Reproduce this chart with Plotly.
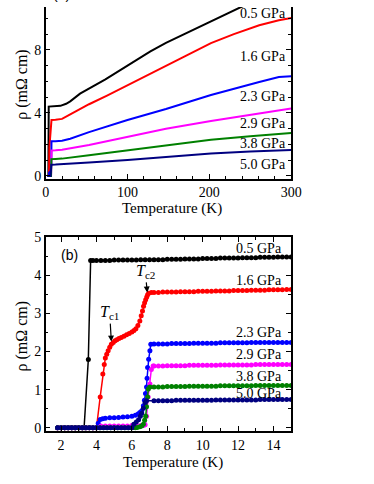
import plotly.graph_objects as go

# ---------------- data: panel (a) ----------------
top_T_05 = [2, 3.3, 3.7, 10, 18, 25, 30, 42, 60, 73, 100, 128, 147, 170, 203, 238, 270, 300]
top_rho_05 = [0, 0, 4.40, 4.42, 4.45, 4.58, 4.73, 5.22, 5.75, 6.13, 7.0, 7.9, 8.45, 9.02, 9.88, 10.7, 11.4, 12.1]
top_T_16 = [2, 4.0, 4.5, 5.5, 6.6, 7.1, 12, 20, 30, 40, 53, 75, 100, 125, 147, 175, 202, 230, 261, 285, 300]
top_rho_16 = [0, 0, 1.8, 2.4, 3.1, 3.55, 3.57, 3.62, 3.9, 4.2, 4.55, 5.1, 5.75, 6.4, 6.95, 7.7, 8.43, 9.0, 9.56, 9.88, 10.02]
top_T_23 = [2, 4.0, 4.2, 6.0, 6.8, 7.1, 12, 20, 30, 53, 100, 147, 202, 230, 261, 285, 300]
top_rho_23 = [0, 0, 0.22, 0.3, 0.7, 2.2, 2.21, 2.24, 2.36, 2.78, 3.55, 4.25, 5.14, 5.55, 5.96, 6.28, 6.33]
top_T_29 = [2, 6.6, 6.9, 7.2, 12, 20, 53, 100, 147, 202, 250, 300]
top_rho_29 = [0, 0, 0.8, 1.62, 1.63, 1.66, 1.97, 2.47, 3.0, 3.49, 3.88, 4.28]
top_T_38 = [2, 6.5, 6.85, 7.0, 12, 20, 53, 100, 147, 202, 250, 300]
top_rho_38 = [0, 0, 0.6, 1.07, 1.08, 1.1, 1.32, 1.63, 1.95, 2.3, 2.52, 2.72]
top_T_50 = [2, 6.0, 6.5, 6.83, 12, 20, 53, 100, 147, 202, 250, 300]
top_rho_50 = [0, 0, 0.35, 0.71, 0.72, 0.74, 0.86, 1.02, 1.23, 1.43, 1.55, 1.64]

# ---------------- data: panel (b) ----------------
Z_T = [1.8, 2.0, 2.2, 2.4, 2.6, 2.8, 3.0, 3.2, 3.4, 3.6, 3.8, 4.0,
       4.2, 4.4, 4.6, 4.8, 5.0, 5.2, 5.4, 5.6, 5.8, 6.0]
Z_rho = [0.0, 0.0, 0.0, 0.0, 0.0, 0.0, 0.0, 0.0, 0.0, 0.0, 0.0, 0.0,
         0.0, 0.0, 0.0, 0.0, 0.0, 0.0, 0.0, 0.0, 0.0, 0.0]
T_flat = [7.25, 7.5, 7.75, 8.0, 8.25, 8.5, 8.75, 9.0,
          9.25, 9.5, 9.75, 10.0, 10.25, 10.5, 10.75, 11.0,
          11.25, 11.5, 11.75, 12.0, 12.25, 12.5, 12.75, 13.0,
          13.25, 13.5, 13.75, 14.0, 14.25, 14.5, 14.75, 15.0]

b05_T = [1.8, 2.0, 2.2, 2.4, 2.6, 2.8, 3.0, 3.2, 3.3, 3.54, 3.67,
         3.8, 4.0, 4.25, 4.5, 4.75, 5.0, 5.25, 5.5, 5.75, 6.0, 6.25, 6.5, 6.75, 7.0]
b05_rho = [0, 0, 0, 0, 0, 0, 0, 0, 0, 1.79, 4.39,
           4.39, 4.39, 4.39, 4.39, 4.39, 4.40, 4.40, 4.40, 4.40, 4.40, 4.40, 4.41, 4.41, 4.41]
b05_flat = [4.41, 4.41, 4.41, 4.42, 4.42, 4.42, 4.42, 4.43,
            4.43, 4.43, 4.43, 4.44, 4.44, 4.44, 4.44, 4.45,
            4.45, 4.45, 4.45, 4.45, 4.46, 4.46, 4.46, 4.46,
            4.47, 4.47, 4.47, 4.47, 4.48, 4.48, 4.48, 4.48]

b16_T = [4.21, 4.36, 4.44, 4.5, 4.58, 4.66, 4.75, 4.84, 4.95, 5.05, 5.15, 5.27, 5.4, 5.55, 5.7,
         5.85, 6.0, 6.12, 6.23, 6.34, 6.45, 6.53, 6.6, 6.66, 6.72, 6.78, 6.84, 6.89, 6.95, 7.1]
b16_rho = [0.81, 1.41, 1.66, 1.83, 1.93, 2.02, 2.11, 2.19, 2.24, 2.28, 2.31, 2.34, 2.37, 2.40, 2.44,
           2.47, 2.51, 2.55, 2.6, 2.68, 2.8, 2.94, 3.06, 3.19, 3.28, 3.36, 3.43, 3.49, 3.53, 3.55]
b16_flat = [3.55, 3.55, 3.56, 3.56, 3.56, 3.56, 3.57, 3.57,
            3.57, 3.57, 3.58, 3.58, 3.58, 3.58, 3.59, 3.59,
            3.59, 3.59, 3.60, 3.60, 3.60, 3.60, 3.61, 3.61,
            3.61, 3.61, 3.62, 3.62, 3.62, 3.62, 3.63, 3.63]

b23_T = [4.1, 4.21, 4.35, 4.5, 4.75, 5.0, 5.25, 5.5, 5.75, 6.0, 6.2, 6.35, 6.45, 6.56, 6.65,
         6.71, 6.77, 6.83, 6.86, 6.89, 6.95, 7.02, 7.07]
b23_rho = [0.12, 0.22, 0.24, 0.25, 0.26, 0.26, 0.27, 0.28, 0.29, 0.30, 0.33, 0.36, 0.40, 0.45, 0.58,
           0.72, 0.9, 1.07, 1.3, 1.58, 1.8, 2.02, 2.19]
b23_flat = [2.20, 2.20, 2.20, 2.20, 2.21, 2.21, 2.21, 2.21,
            2.21, 2.22, 2.22, 2.22, 2.22, 2.22, 2.22, 2.23,
            2.23, 2.23, 2.23, 2.23, 2.23, 2.23, 2.24, 2.24,
            2.24, 2.24, 2.24, 2.24, 2.24, 2.24, 2.24, 2.24]

b29_T = [4.25, 4.5, 4.75, 5.0, 5.25, 5.5, 5.75, 6.0, 6.25, 6.5, 6.65, 6.75, 6.83, 6.92, 7.02, 7.1, 7.2]
b29_rho = [0.05, 0.05, 0.05, 0.05, 0.05, 0.05, 0.05, 0.06, 0.06, 0.06, 0.06, 0.08, 0.3, 0.81, 1.15, 1.53, 1.62]
b29_flat = [1.62, 1.62, 1.62, 1.63, 1.63, 1.63, 1.63, 1.63,
            1.64, 1.64, 1.64, 1.64, 1.64, 1.64, 1.64, 1.65,
            1.65, 1.65, 1.65, 1.65, 1.65, 1.65, 1.65, 1.66,
            1.66, 1.66, 1.66, 1.66, 1.66, 1.66, 1.66, 1.66]

b38_T = [6.2, 6.3, 6.45, 6.55, 6.65, 6.72, 6.78, 6.83, 6.89, 6.93, 7.02]
b38_rho = [0.0, 0.01, 0.03, 0.05, 0.09, 0.2, 0.3, 0.55, 0.81, 1.02, 1.07]
b38_flat = [1.07, 1.07, 1.07, 1.08, 1.08, 1.08, 1.08, 1.08,
            1.09, 1.09, 1.09, 1.09, 1.09, 1.09, 1.09, 1.10,
            1.10, 1.10, 1.10, 1.10, 1.10, 1.10, 1.10, 1.11,
            1.11, 1.11, 1.11, 1.11, 1.11, 1.11, 1.11, 1.11]

b50_T = [6.11, 6.25, 6.38, 6.48, 6.56, 6.65, 6.75, 6.83]
b50_rho = [0.09, 0.15, 0.21, 0.3, 0.38, 0.51, 0.66, 0.71]
b50_flat = [0.71, 0.71, 0.71, 0.71, 0.71, 0.72, 0.72, 0.72,
            0.72, 0.72, 0.72, 0.72, 0.72, 0.72, 0.73, 0.73,
            0.73, 0.73, 0.73, 0.73, 0.73, 0.73, 0.73, 0.73,
            0.74, 0.74, 0.74, 0.74, 0.74, 0.74, 0.74, 0.74]

labels = ["0.5 GPa", "1.6 GPa", "2.3 GPa", "2.9 GPa", "3.8 GPa", "5.0 GPa"]
colors = ["#000000", "#ff0000", "#0000ff", "#ff00ff", "#008000", "#000080"]
top_label_y = [10.28, 7.61, 5.02, 3.35, 2.06, 0.70]
bot_label_y = [4.69, 3.85, 2.50, 1.91, 1.35, 0.91]

# ---------------- build series ----------------
top_series = [(top_T_05, top_rho_05), (top_T_16, top_rho_16), (top_T_23, top_rho_23),
              (top_T_29, top_rho_29), (top_T_38, top_rho_38), (top_T_50, top_rho_50)]

bot_series = [
    (b05_T + T_flat, b05_rho + b05_flat),
    (Z_T[:12] + b16_T + T_flat, Z_rho[:12] + b16_rho + b16_flat),
    (Z_T[:12] + b23_T + T_flat, Z_rho[:12] + b23_rho + b23_flat),
    (Z_T[:12] + b29_T + T_flat, Z_rho[:12] + b29_rho + b29_flat),
    (Z_T + b38_T + T_flat, Z_rho + b38_rho + b38_flat),
    (Z_T + b50_T + T_flat, Z_rho + b50_rho + b50_flat),
]
for t, r in bot_series:
    assert len(t) == len(r), (len(t), len(r))

W, H = 374, 484
fig = go.Figure()

for (t, r), c in zip(top_series, colors):
    fig.add_trace(go.Scatter(x=t, y=r, mode="lines", line=dict(color=c, width=2),
                             xaxis="x", yaxis="y", showlegend=False, hoverinfo="skip"))

for (t, r), c in zip(bot_series, colors):
    fig.add_trace(go.Scatter(x=t, y=r, mode="lines+markers",
                             line=dict(color=c, width=1.5),
                             marker=dict(color=c, size=5),
                             xaxis="x2", yaxis="y2", showlegend=False, hoverinfo="skip"))

serif = "Liberation Serif"
sans = "Liberation Sans"
xdom = [43.3 / W, 298.3 / W]
top_dom = [1 - 176 / H, 1.0]
bot_dom = [1 - 435 / H, 1 - 236 / H]

axis_common = dict(showline=True, linecolor="black", linewidth=1.5, ticks="inside",
                   ticklen=5, tickwidth=1.2, tickcolor="black", showgrid=False,
                   zeroline=False, tickfont=dict(family=serif, size=14, color="black"))

fig.update_layout(
    width=W, height=H, margin=dict(l=0, r=0, t=0, b=0),
    paper_bgcolor="white", plot_bgcolor="white",
    xaxis=dict(domain=xdom, range=[0, 300], anchor="y", tick0=0, dtick=100,
               minor=dict(dtick=20, ticklen=3, ticks="inside", tickcolor="black", tickwidth=1),
               mirror=False, **axis_common),
    yaxis=dict(domain=top_dom, range=[-0.17, 10.72], anchor="x", tick0=0, dtick=4,
               minor=dict(dtick=1, ticklen=3, ticks="inside", tickcolor="black", tickwidth=1),
               mirror="ticks", **axis_common),
    xaxis2=dict(domain=xdom, range=[1.13, 15], anchor="y2", tick0=0, dtick=2,
                minor=dict(dtick=1, ticklen=3, ticks="inside", tickcolor="black", tickwidth=1),
                mirror="ticks", **axis_common),
    yaxis2=dict(domain=bot_dom, range=[-0.09, 5], anchor="x2", tick0=0, dtick=1,
                minor=dict(dtick=0.5, ticklen=3, ticks="inside", tickcolor="black", tickwidth=1),
                mirror="ticks", **axis_common),
)

ann = []
for lab, yv in zip(labels, top_label_y):
    ann.append(dict(x=266, y=yv, xref="x", yref="y", text=lab, showarrow=False,
                    xanchor="center", yanchor="middle",
                    font=dict(family=serif, size=14, color="black")))
for lab, yv in zip(labels, bot_label_y):
    ann.append(dict(x=13.17, y=yv, xref="x2", yref="y2", text=lab, showarrow=False,
                    xanchor="center", yanchor="middle",
                    font=dict(family=serif, size=14, color="black")))

# axis titles
ann.append(dict(x=175 / W, y=1 - 207 / H, xref="paper", yref="paper", text="Temperature (K)",
                xanchor="center", yanchor="middle",
                showarrow=False, font=dict(family=serif, size=15, color="black")))
ann.append(dict(x=176 / W, y=1 - 466.7 / H, xref="paper", yref="paper", text="Temperature (K)",
                xanchor="center", yanchor="middle",
                showarrow=False, font=dict(family=serif, size=15, color="black")))
ann.append(dict(x=18.5 / W, y=1 - 79 / H, xref="paper", yref="paper", text="ρ (mΩ cm)",
                xanchor="center", yanchor="middle",
                textangle=-90, showarrow=False, font=dict(family=serif, size=16, color="black")))
ann.append(dict(x=18.5 / W, y=1 - 337 / H, xref="paper", yref="paper", text="ρ (mΩ cm)",
                xanchor="center", yanchor="middle",
                textangle=-90, showarrow=False, font=dict(family=serif, size=16, color="black")))

# panel labels
ann.append(dict(x=2.47, y=4.54, xref="x2", yref="y2", text="(b)", showarrow=False,
                xanchor="center", yanchor="middle",
                font=dict(family=sans, size=14, color="black")))
ann.append(dict(x=60 / W, y=1 + 3 / H, xref="paper", yref="paper", text="(a)", showarrow=False,
                xanchor="center", yanchor="bottom", font=dict(family=sans, size=14, color="black")))

# Tc markers (label at the arrow tail, arrow tip on the curve)
ann.append(dict(x=4.84, y=2.26, xref="x2", yref="y2", text="<i>T</i><sub>c1</sub>", showarrow=True,
                ax=-1.7, ay=-29, arrowhead=2, arrowsize=1, arrowwidth=1.2, arrowcolor="black",
                font=dict(family=serif, size=16, color="black")))
ann.append(dict(x=6.87, y=3.55, xref="x2", yref="y2", text="<i>T</i><sub>c2</sub>", showarrow=True,
                ax=-2.0, ay=-21, arrowhead=2, arrowsize=1, arrowwidth=1.2, arrowcolor="black",
                font=dict(family=serif, size=16, color="black")))

fig.update_layout(annotations=ann)
post = ("var gd=document.getElementById('{plot_id}');"
        "document.documentElement.style.margin='0';document.documentElement.style.padding='0';"
        "document.documentElement.style.overflow='hidden';"
        "document.body.style.margin='0';document.body.style.padding='0';"
        "document.body.style.overflow='hidden';"
        "gd.style.position='fixed';gd.style.left='0px';gd.style.top='0px';")
fig.write_html("out.html", config={"displayModeBar": False}, post_script=post)
